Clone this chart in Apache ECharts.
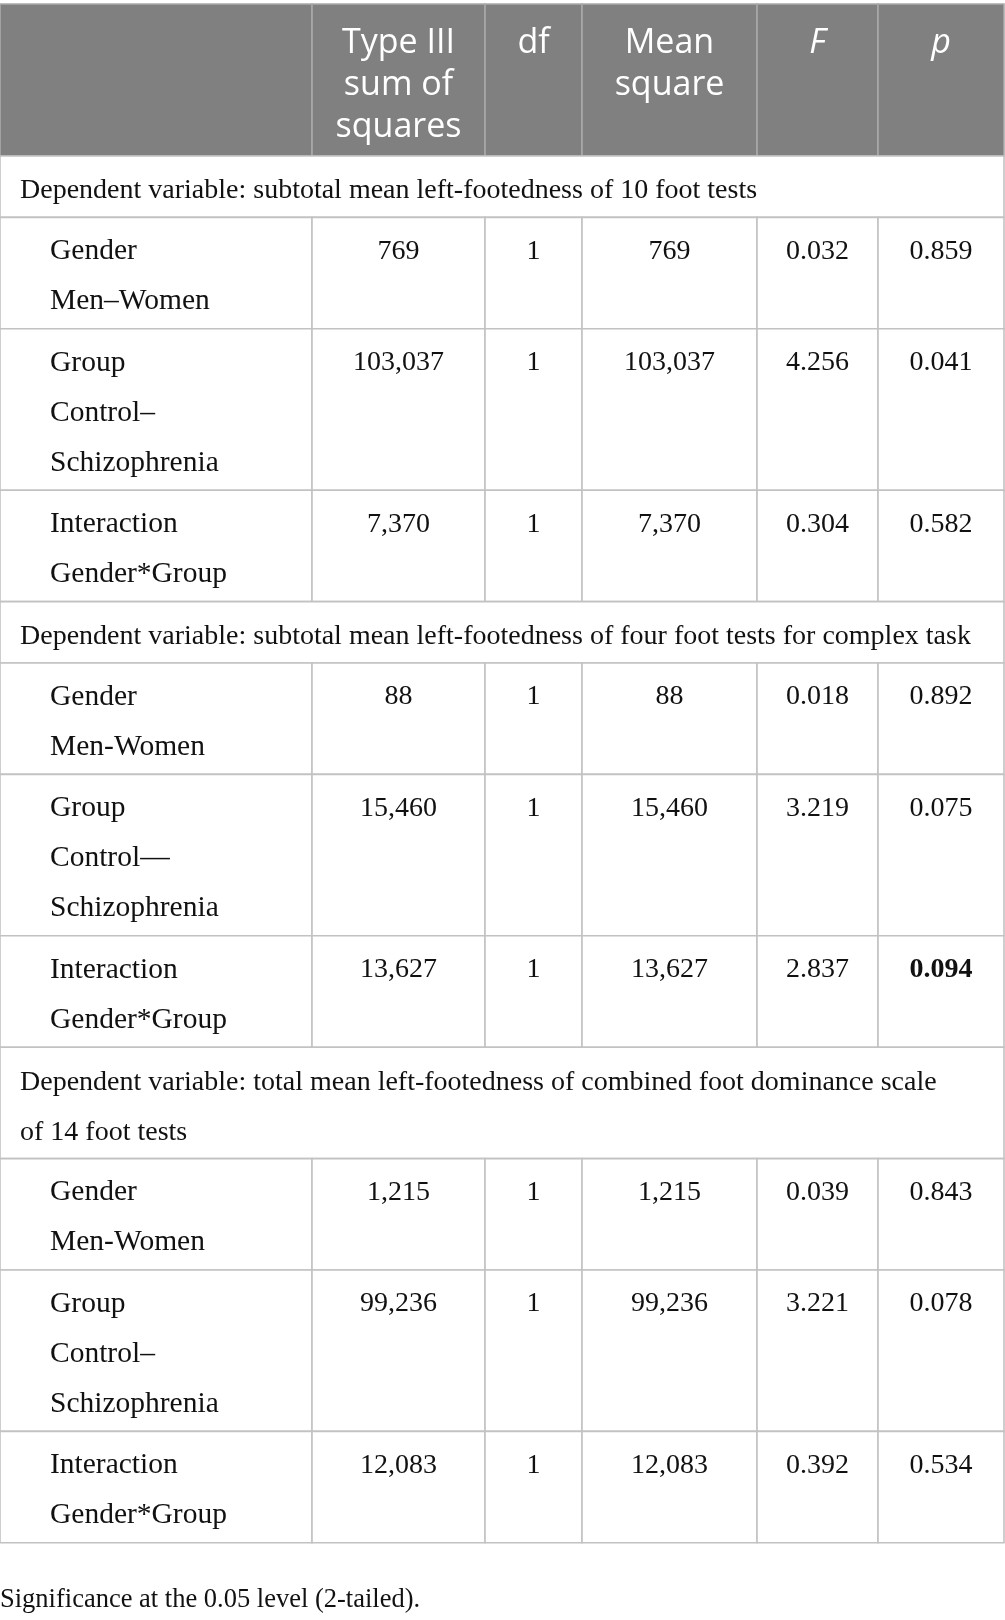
<!DOCTYPE html>
<html>
<head>
<meta charset="utf-8">
<script src="https://cdn.jsdelivr.net/npm/echarts@6/dist/echarts.min.js"></script>
<style>
  html, body { margin: 0; padding: 0; background: #ffffff; }
  #table { width: 1005px; height: 1620px; }
</style>
</head>
<body>
<div id="table"></div>
<script>
// table content
const headers = ['', 'Type III\nsum of\nsquares', 'df', 'Mean\nsquare', 'F', 'p'];
const sections = [
  'Dependent variable: subtotal mean left-footedness of 10 foot tests',
  'Dependent variable: subtotal mean left-footedness of four foot tests for complex task',
  'Dependent variable: total mean left-footedness of combined foot dominance scale\nof 14 foot tests'
];
const effects = [
  'Gender\nMen\u2013Women', 'Group\nControl\u2013\nSchizophrenia', 'Interaction\nGender*Group',
  'Gender\nMen-Women', 'Group\nControl\u2014\nSchizophrenia', 'Interaction\nGender*Group',
  'Gender\nMen-Women', 'Group\nControl\u2013\nSchizophrenia', 'Interaction\nGender*Group'
];
const sumSquares = [769, 103037, 7370, 88, 15460, 13627, 1215, 99236, 12083];
const dfValues = [1, 1, 1, 1, 1, 1, 1, 1, 1];
const meanSquares = [769, 103037, 7370, 88, 15460, 13627, 1215, 99236, 12083];
const fValues = [0.032, 4.256, 0.304, 0.018, 3.219, 2.837, 0.039, 3.221, 0.392];
const pValues = [0.859, 0.041, 0.582, 0.892, 0.075, 0.094, 0.843, 0.078, 0.534];
const boldP = [5];
const footnote = 'Significance at the 0.05 level (2-tailed).';

// layout
const colEdges = [0, 312, 485, 582, 757, 878, 1004];
const tableTop = 4;
const headerHeight = 152;
const lineH = 50;
const rowPad = 11.4;
const serif = '"Liberation Serif", "Times New Roman", serif';
const sans = '"Open Sans", "Noto Sans", sans-serif';
const headerBg = '#808080';
const headerLine = '#a9a9a9';
const bodyLine = '#c2c2c2';
const ink = '#111111';

let cells = [];
let y = tableTop;

headers.forEach(function (h, i) {
  cells.push({
    x0: colEdges[i], x1: colEdges[i + 1], y0: y, y1: y + headerHeight,
    text: h, fill: headerBg, stroke: headerLine, color: '#ffffff',
    font: (i >= 4 ? 'italic ' : '') + '34px ' + sans,
    align: 'center', lineHeight: 42, padTop: 18
  });
});
y += headerHeight;

function lines (s) {
  return s.split('\n').length;
}

sections.forEach(function (sec, s) {
  let h = lines(sec) * lineH + rowPad;
  cells.push({
    x0: colEdges[0], x1: colEdges[6], y0: y, y1: y + h,
    text: sec, fill: '#ffffff', stroke: bodyLine, color: ink,
    font: '28px ' + serif, align: 'left', indent: 20, lineHeight: lineH, padTop: 10
  });
  y += h;
  for (let r = 0; r < 3; r++) {
    let k = s * 3 + r;
    let rh = lines(effects[k]) * lineH + rowPad;
    let row = [
      effects[k],
      sumSquares[k].toLocaleString('en-US'),
      String(dfValues[k]),
      meanSquares[k].toLocaleString('en-US'),
      fValues[k].toFixed(3),
      pValues[k].toFixed(3)
    ];
    row.forEach(function (t, c) {
      let bold = c === 5 && boldP.indexOf(k) >= 0;
      cells.push({
        x0: colEdges[c], x1: colEdges[c + 1], y0: y, y1: y + rh,
        text: t, fill: '#ffffff', stroke: bodyLine, color: ink,
        font: (bold ? 'bold ' : '') + (c === 0 ? '29.5px ' : '28px ') + serif,
        align: c === 0 ? 'left' : 'center', indent: 50, lineHeight: lineH, padTop: 9
      });
    });
    y += rh;
  }
});

cells.push({
  x0: 0, x1: colEdges[6], y0: y + 38, y1: y + 76,
  text: footnote, fill: 'none', stroke: 'none', color: ink,
  font: '26.5px ' + serif, align: 'left', indent: 0, lineHeight: 38, padTop: 0
});

const chart = echarts.init(document.getElementById('table'), null, { renderer: 'canvas' });

chart.setOption({
  animation: false,
  backgroundColor: '#ffffff',
  grid: { left: 0, right: 0, top: 0, bottom: 0 },
  xAxis: { type: 'value', min: 0, max: 1005, show: false },
  yAxis: { type: 'value', min: 0, max: 1620, inverse: true, show: false },
  series: [{
    type: 'custom',
    clip: false,
    silent: true,
    data: cells.map(function (c) { return [c.x0, c.y0, c.x1, c.y1]; }),
    renderItem: function (params, api) {
      let c = cells[params.dataIndex];
      let p0 = api.coord([api.value(0), api.value(1)]);
      let p1 = api.coord([api.value(2), api.value(3)]);
      let tx = c.align === 'center' ? (p0[0] + p1[0]) / 2 : p0[0] + c.indent;
      return {
        type: 'group',
        children: [{
          type: 'rect',
          shape: { x: p0[0], y: p0[1], width: p1[0] - p0[0], height: p1[1] - p0[1] },
          style: { fill: c.fill, stroke: c.stroke, lineWidth: 1.6 }
        }, {
          type: 'text',
          style: {
            text: c.text,
            x: tx,
            y: p0[1] + c.padTop,
            fill: c.color,
            font: c.font,
            align: c.align,
            verticalAlign: 'top',
            lineHeight: c.lineHeight
          }
        }]
      };
    }
  }]
});
</script>
</body>
</html>
